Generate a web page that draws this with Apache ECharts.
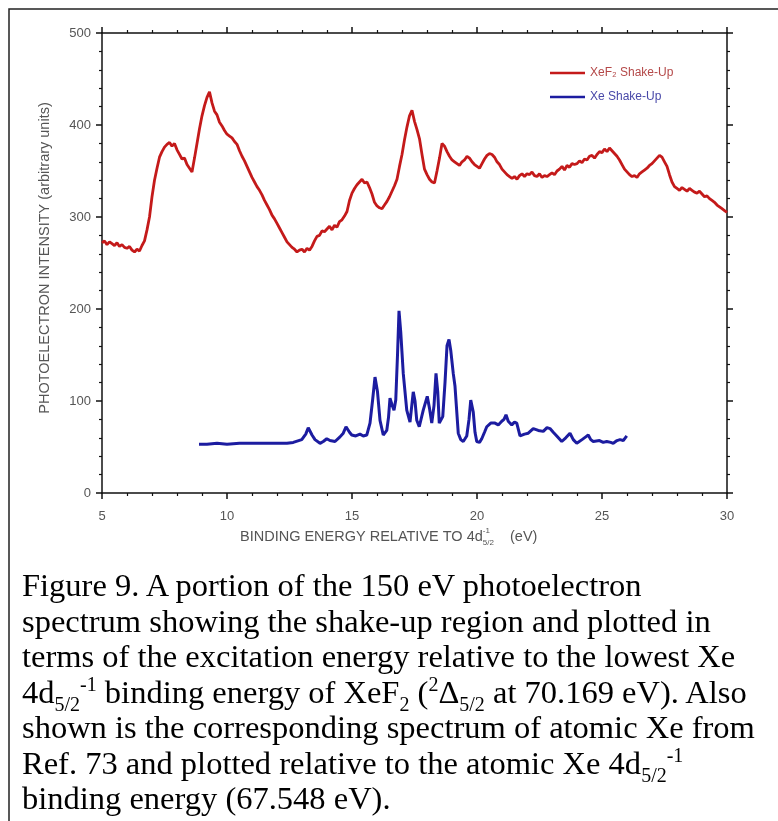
<!DOCTYPE html>
<html>
<head>
<meta charset="utf-8">
<title>XeF2 and Xe shake-up spectra</title>
<script src="https://cdn.jsdelivr.net/npm/echarts@6/dist/echarts.min.js"></script>
<style>
  html, body { margin: 0; padding: 0; background: #fff; }
  #wrap { position: relative; width: 778px; height: 821px; overflow: hidden; }
  #chart { position: absolute; left: 0; top: 0; width: 778px; height: 821px; }
  #caption {
    position: absolute; left: 22px; top: 568px;
    font-family: "Liberation Serif", "Times New Roman", serif;
    font-size: 32.5px; line-height: 35.5px; color: #000; white-space: nowrap;
  }
  #caption sub, #caption sup { font-size: 20px; line-height: 0; }
</style>
</head>
<body>
<div id="wrap">
  <div id="chart"></div>
  <div id="caption">
    Figure 9. A portion of the 150 eV photoelectron<br>
    spectrum showing the shake-up region and plotted in<br>
    terms of the excitation energy relative to the lowest Xe<br>
    4d<sub>5/2</sub><sup>-1</sup> binding energy of XeF<sub>2</sub> (<sup>2</sup>&Delta;<sub>5/2</sub> at 70.169 eV). Also<br>
    shown is the corresponding spectrum of atomic Xe from<br>
    Ref. 73 and plotted relative to the atomic Xe 4d<sub>5/2</sub><sup>-1</sup><br>
    binding energy (67.548 eV).
  </div>
</div>
<script>
// Axis ticks
const xTicks = [5, 10, 15, 20, 25, 30];
const yTicks = [0, 100, 200, 300, 400, 500];

const seriesNames = ['XeF\u2082 Shake-Up', 'Xe Shake-Up'];

// XeF2 shake-up spectrum: [binding energy (eV), intensity]
const xef2Spectrum = [
  [5.0,272],[5.1,274],[5.2,270],[5.3,273],[5.4,271],[5.5,269],[5.6,272],[5.7,268],[5.8,270],[5.9,267],
  [6.0,266],[6.1,268],[6.2,264],[6.3,262],[6.4,265],[6.5,263],[6.6,269],[6.7,274],[6.8,286],[6.9,300],
  [7.0,322],[7.1,340],[7.2,353],[7.3,365],[7.4,371],[7.5,376],[7.6,379],[7.7,381],[7.8,377],[7.9,380],
  [8.0,373],[8.1,368],[8.2,363],[8.3,364],[8.4,357],[8.5,353],[8.6,349],[8.7,364],[8.8,380],[8.9,396],
  [9.0,410],[9.1,421],[9.2,430],[9.3,436],[9.4,424],[9.5,415],[9.6,411],[9.7,403],[9.8,399],[9.9,394],
  [10.0,390],[10.1,388],[10.2,386],[10.3,382],[10.4,379],[10.5,372],[10.6,366],[10.7,361],[10.8,355],[10.9,349],
  [11.0,343],[11.1,338],[11.2,333],[11.3,329],[11.4,324],[11.5,318],[11.6,313],[11.7,308],[11.8,302],[11.9,298],
  [12.0,293],[12.1,288],[12.2,283],[12.3,278],[12.4,273],[12.5,270],[12.6,267],[12.7,265],[12.8,262],[12.9,264],
  [13.0,265],[13.1,262],[13.2,266],[13.3,264],[13.4,268],[13.5,274],[13.6,279],[13.7,280],[13.8,285],[13.9,284],
  [14.0,287],[14.1,290],[14.2,286],[14.3,291],[14.4,289],[14.5,295],[14.6,297],[14.7,301],[14.8,306],[14.9,318],
  [15.0,326],[15.1,331],[15.2,335],[15.3,338],[15.4,341],[15.5,337],[15.6,338],[15.7,332],[15.8,325],[15.9,316],
  [16.0,312],[16.1,310],[16.2,309],[16.3,313],[16.4,317],[16.5,322],[16.6,328],[16.7,334],[16.8,341],[16.9,355],
  [17.0,368],[17.1,384],[17.2,398],[17.3,410],[17.4,416],[17.5,404],[17.6,395],[17.7,385],[17.8,368],[17.9,352],
  [18.0,346],[18.1,341],[18.2,338],[18.3,337],[18.4,350],[18.5,364],[18.6,380],[18.7,377],[18.8,371],[18.9,366],
  [19.0,362],[19.1,360],[19.2,358],[19.3,356],[19.4,360],[19.5,362],[19.6,366],[19.7,364],[19.8,360],[19.9,357],
  [20.0,355],[20.1,353],[20.2,358],[20.3,363],[20.4,367],[20.5,369],[20.6,368],[20.7,365],[20.8,360],[20.9,357],
  [21.0,352],[21.1,349],[21.2,346],[21.3,344],[21.4,342],[21.5,344],[21.6,341],[21.7,345],[21.8,347],[21.9,344],
  [22.0,347],[22.1,346],[22.2,349],[22.3,345],[22.4,344],[22.5,347],[22.6,343],[22.7,345],[22.8,344],[22.9,346],
  [23.0,348],[23.1,346],[23.2,350],[23.3,352],[23.4,355],[23.5,351],[23.6,356],[23.7,354],[23.8,358],[23.9,357],
  [24.0,358],[24.1,361],[24.2,359],[24.3,363],[24.4,362],[24.5,366],[24.6,367],[24.7,364],[24.8,368],[24.9,371],
  [25.0,370],[25.1,374],[25.2,371],[25.3,375],[25.4,372],[25.5,369],[25.6,366],[25.7,362],[25.8,357],[25.9,352],
  [26.0,349],[26.1,346],[26.2,344],[26.3,345],[26.4,343],[26.5,347],[26.6,349],[26.7,351],[26.8,353],[26.9,356],
  [27.0,358],[27.1,361],[27.2,364],[27.3,367],[27.4,365],[27.5,360],[27.6,355],[27.7,346],[27.8,338],[27.9,333],
  [28.0,331],[28.1,329],[28.2,332],[28.3,330],[28.4,328],[28.5,331],[28.6,329],[28.7,327],[28.8,326],[28.9,328],
  [29.0,325],[29.1,322],[29.2,323],[29.3,320],[29.4,318],[29.5,316],[29.6,313],[29.7,311],[29.8,309],[29.9,307],
  [30.0,305]
];

// Atomic Xe shake-up spectrum: [binding energy (eV), intensity]
const xeSpectrum = [
  [8.88,53],[9.2,53],[9.6,54],[10.0,53],[10.5,54],[11.0,54],[11.5,54],[12.0,54],[12.4,54],[12.65,55],
  [12.99,58],[13.15,64],[13.25,71],[13.4,63],[13.52,58],[13.72,54],[13.85,56],[13.99,59],[14.12,57],[14.32,56],
  [14.52,61],[14.65,65],[14.76,72],[14.9,66],[14.99,63],[15.15,62],[15.32,64],[15.45,62],[15.59,63],[15.72,76],
  [15.82,100],[15.92,126],[16.02,110],[16.12,79],[16.25,63],[16.39,68],[16.46,82],[16.52,103],[16.6,96],[16.68,90],
  [16.75,101],[16.82,150],[16.88,198],[16.95,175],[17.05,130],[17.19,90],[17.32,77],[17.45,110],[17.52,100],[17.59,79],
  [17.69,72],[17.85,90],[18.01,105],[18.1,92],[18.19,76],[18.28,95],[18.36,130],[18.43,110],[18.49,76],[18.63,83],
  [18.72,120],[18.8,160],[18.88,167],[18.95,155],[19.05,130],[19.12,116],[19.25,65],[19.35,58],[19.45,56],[19.59,62],
  [19.68,80],[19.75,101],[19.85,88],[19.92,66],[19.99,56],[20.1,55],[20.19,59],[20.3,66],[20.39,72],[20.55,76],
  [20.72,76],[20.85,74],[20.99,78],[21.08,80],[21.16,85],[21.25,78],[21.39,74],[21.5,77],[21.59,76],[21.72,62],
  [21.9,64],[22.05,65],[22.25,70],[22.45,68],[22.65,67],[22.8,71],[22.92,70],[23.05,66],[23.19,62],[23.39,56],
  [23.55,60],[23.72,65],[23.85,58],[23.99,54],[24.2,58],[24.35,61],[24.45,63],[24.55,58],[24.65,56],[24.9,57],
  [25.05,55],[25.19,56],[25.35,55],[25.45,54],[25.6,57],[25.72,58],[25.85,57],[25.99,62]
];

const redColor = '#c41a1a';
const blueColor = '#1c1ca0';
const axisColor = '#111';
const labelColor = '#555';
const sansFont = '"Liberation Sans", Arial, sans-serif';

function frameAxis(extra) {
  return Object.assign({
    type: 'value',
    axisLine: { show: true, onZero: false, lineStyle: { color: axisColor, width: 1.5 } },
    axisTick: { show: true, inside: false, length: 6, lineStyle: { color: axisColor, width: 1.5 } },
    minorTick: { show: true, splitNumber: 5, length: 3, lineStyle: { color: axisColor, width: 1.2 } },
    splitLine: { show: false },
    minorSplitLine: { show: false }
  }, extra);
}

const chart = echarts.init(document.getElementById('chart'), null, { renderer: 'canvas' });

chart.setOption({
  animation: false,
  backgroundColor: '#fff',
  grid: { left: 102, top: 33, right: 51, bottom: 328, containLabel: false },
  legend: {
    orient: 'vertical',
    left: 545,
    top: 61,
    itemWidth: 35,
    itemHeight: 2.5,
    itemGap: 10,
    icon: 'rect',
    textStyle: { fontFamily: sansFont, fontSize: 12, lineHeight: 14 },
    data: [
      { name: seriesNames[0], textStyle: { color: '#b44848' } },
      { name: seriesNames[1], textStyle: { color: '#4848a8' } }
    ]
  },
  xAxis: [
    frameAxis({
      min: xTicks[0], max: xTicks[xTicks.length - 1], interval: 5, position: 'bottom',
      axisLabel: { color: labelColor, fontSize: 13, fontFamily: sansFont, margin: 17 }
    }),
    frameAxis({
      min: xTicks[0], max: xTicks[xTicks.length - 1], interval: 5, position: 'top',
      axisLabel: { show: false }
    })
  ],
  yAxis: [
    frameAxis({
      min: yTicks[0], max: yTicks[yTicks.length - 1], interval: 100, position: 'left',
      axisLabel: { color: labelColor, fontSize: 13, fontFamily: sansFont, margin: 11 },
      name: 'PHOTOELECTRON INTENSITY (arbitrary units)',
      nameLocation: 'middle',
      nameGap: 50,
      nameTextStyle: { color: labelColor, fontSize: 14.5, fontFamily: sansFont, padding: [0, 0, 0, 10] }
    }),
    frameAxis({
      min: yTicks[0], max: yTicks[yTicks.length - 1], interval: 100, position: 'right',
      axisLabel: { show: false }
    })
  ],
  graphic: [
    {
      type: 'rect', silent: true, z: 100,
      shape: { x: 9, y: 9, width: 820, height: 860 },
      style: { fill: 'none', stroke: '#222', lineWidth: 1.5 }
    },
    {
      type: 'text', left: 240, top: 527, z: 100,
      style: {
        text: '{a|BINDING ENERGY RELATIVE TO 4d}{sup|-1}{sub|5/2}{a|    (eV)}',
        rich: {
          a: { fontFamily: sansFont, fontSize: 14.5, fill: labelColor, lineHeight: 20, verticalAlign: 'middle' },
          sup: { fontFamily: sansFont, fontSize: 8, fill: labelColor, lineHeight: 20, verticalAlign: 'top', width: 0 },
          sub: { fontFamily: sansFont, fontSize: 8, fill: labelColor, lineHeight: 20, verticalAlign: 'bottom' }
        }
      }
    }
  ],
  series: [
    {
      name: seriesNames[0], type: 'line', data: xef2Spectrum,
      showSymbol: false, symbol: 'none', smooth: false,
      lineStyle: { color: redColor, width: 2.8 }, itemStyle: { color: redColor }, z: 3
    },
    {
      name: seriesNames[1], type: 'line', data: xeSpectrum,
      showSymbol: false, symbol: 'none', smooth: false,
      lineStyle: { color: blueColor, width: 3 }, itemStyle: { color: blueColor }, z: 4
    }
  ]
});
</script>
</body>
</html>
